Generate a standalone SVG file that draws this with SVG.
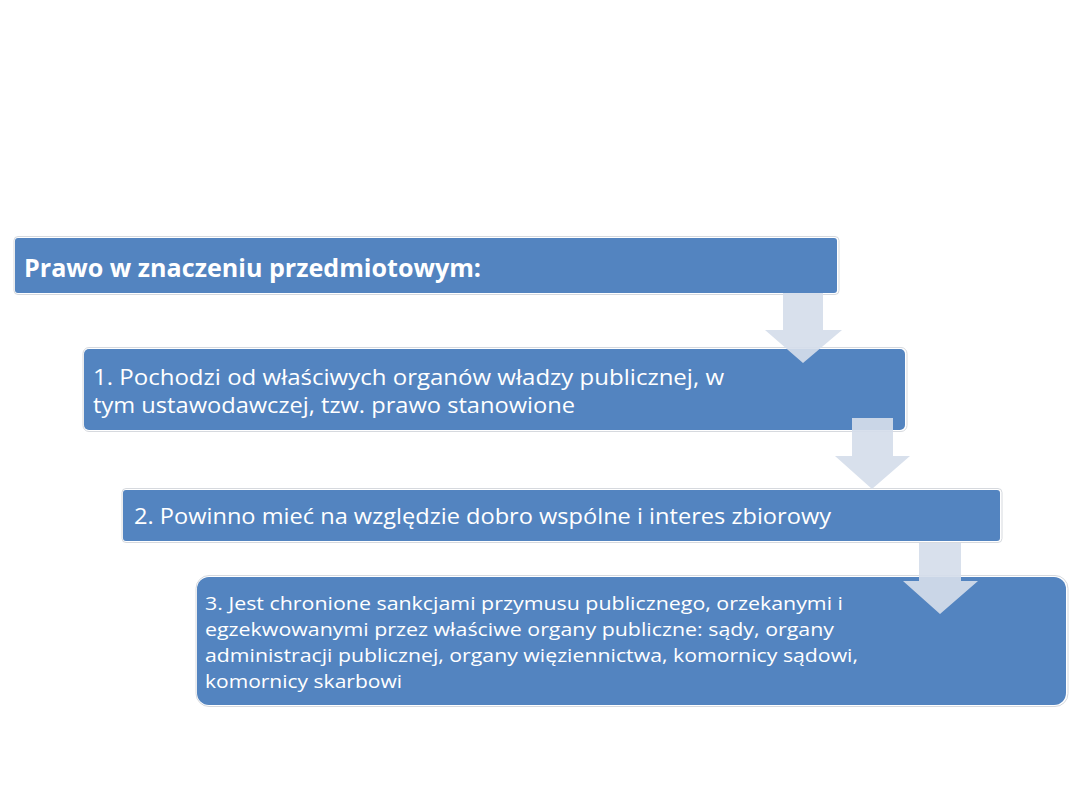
<svg xmlns="http://www.w3.org/2000/svg" width="1080" height="810" viewBox="0 0 1080 810">
<style>
.box{fill:#5384C0}
.halo{fill:none;stroke:#D6D9DE;stroke-width:1}
.arrow{fill:#D5DDEA;fill-opacity:0.92}
.t{font-family:"Open Sans","Liberation Sans",sans-serif;fill:#FFFFFF}
.b{font-weight:bold;font-size:25px}
.m{font-size:21px}
.s{font-size:19px}
</style>
<rect width="1080" height="810" fill="#FFFFFF"/>
<g id="node0">
<rect class="halo" x="14" y="236.5" width="825" height="58" rx="4"/>
<rect class="box" x="15" y="238" width="822" height="55" rx="3"/>
<text class="t b" x="24" y="277" textLength="457" lengthAdjust="spacingAndGlyphs">Prawo w znaczeniu przedmiotowym:</text>
</g>
<g id="node1">
<rect class="halo" x="83" y="347.5" width="824" height="84" rx="6"/>
<rect class="box" x="84" y="349" width="821" height="81" rx="5"/>
<text class="t m" x="93" y="385" textLength="631" lengthAdjust="spacingAndGlyphs">1. Pochodzi od właściwych organów władzy publicznej, w</text>
<text class="t m" x="93" y="413" textLength="482" lengthAdjust="spacingAndGlyphs">tym ustawodawczej, tzw. prawo stanowione</text>
</g>
<g id="node2">
<rect class="halo" x="122" y="488.5" width="880" height="54" rx="4"/>
<rect class="box" x="123" y="490" width="877" height="51" rx="3"/>
<text class="t m" x="134" y="524" textLength="697" lengthAdjust="spacingAndGlyphs">2. Powinno mieć na względzie dobro wspólne i interes zbiorowy</text>
</g>
<g id="node3">
<rect class="halo" x="196" y="575.5" width="872" height="131" rx="13"/>
<rect class="box" x="197" y="577" width="869" height="128" rx="12"/>
<text class="t s" x="205" y="610" textLength="638" lengthAdjust="spacingAndGlyphs">3. Jest chronione sankcjami przymusu publicznego, orzekanymi i</text>
<text class="t s" x="205" y="636" textLength="629" lengthAdjust="spacingAndGlyphs">egzekwowanymi przez właściwe organy publiczne: sądy, organy</text>
<text class="t s" x="205" y="662" textLength="653" lengthAdjust="spacingAndGlyphs">administracji publicznej, organy więziennictwa, komornicy sądowi,</text>
<text class="t s" x="205" y="688" textLength="197" lengthAdjust="spacingAndGlyphs">komornicy skarbowi</text>
</g>
<g id="connectors">
<polygon class="arrow" points="783,293 823,293 823,330 842,330 803,363 765,330 783,330"/>
<polygon class="arrow" points="852,418 893,418 893,456 910,456 872,489 835,456 852,456"/>
<polygon class="arrow" points="919,543 961,543 961,581 978,581 940,614 903,581 919,581"/>
</g>
</svg>
